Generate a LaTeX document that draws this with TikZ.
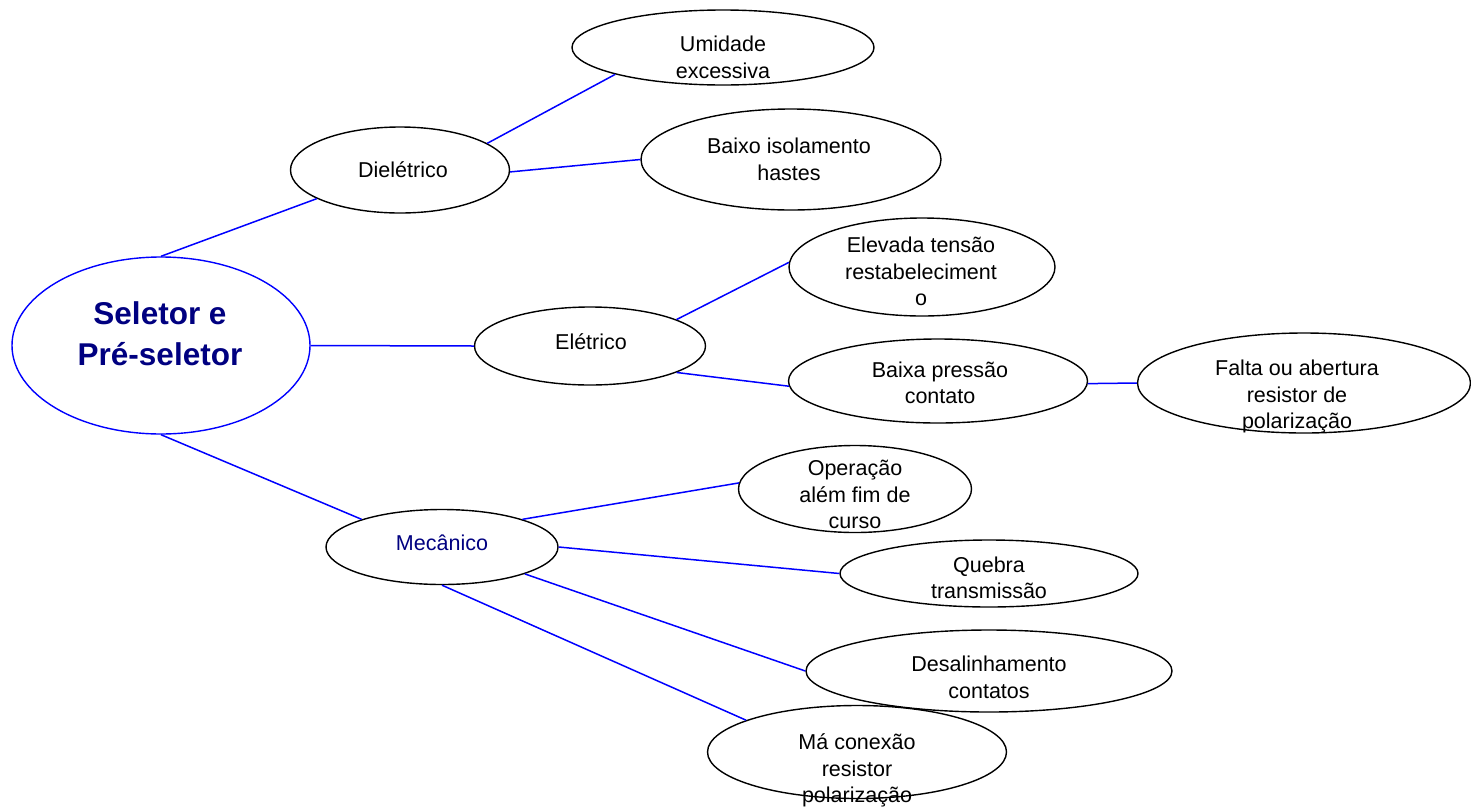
\documentclass[tikz,border=0pt]{standalone}
\usepackage{fontspec}
\setmainfont{Liberation Sans}
\usetikzlibrary{shapes.geometric}
\definecolor{navy}{RGB}{0,0,128}
\definecolor{lblue}{RGB}{0,0,255}
\tikzset{
  ell/.style={ellipse, draw=black, line width=1.4pt, inner sep=0pt},
  mainell/.style={ellipse, draw=lblue, line width=1.4pt, inner sep=0pt},
  lbl/.style={align=center, font=\fontsize{21.5}{26.5}\selectfont, inner sep=0pt},
  mainlbl/.style={align=center, font=\fontsize{31.5}{41}\selectfont\bfseries, text=navy, inner sep=0pt},
  conn/.style={draw=lblue, line width=1.5pt},
}
\begin{document}
\begin{tikzpicture}[x=1pt,y=-1pt]
\useasboundingbox (0,0) rectangle (1471,809);
% ellipses
\node[mainell, minimum width=298pt, minimum height=177pt] (main) at (161,345.5) {};
\node[ell, minimum width=219pt, minimum height=86pt] (diel) at (400,170) {};
\node[ell, minimum width=302pt, minimum height=75pt] (umid) at (723,47.5) {};
\node[ell, minimum width=300pt, minimum height=101pt] (biso) at (791,159.5) {};
\node[ell, minimum width=231pt, minimum height=78pt] (elet) at (590,346) {};
\node[ell, minimum width=266pt, minimum height=98pt] (elev) at (922,267) {};
\node[ell, minimum width=299pt, minimum height=84pt] (bpre) at (938,381) {};
\node[ell, minimum width=333pt, minimum height=100pt] (falta) at (1304,383) {};
\node[ell, minimum width=232pt, minimum height=75pt] (mec) at (442,547) {};
\node[ell, minimum width=233pt, minimum height=87pt] (oper) at (855,489) {};
\node[ell, minimum width=298pt, minimum height=67pt] (queb) at (989,573.5) {};
\node[ell, minimum width=366pt, minimum height=82pt] (desal) at (989,671) {};
\node[ell, minimum width=299pt, minimum height=93pt] (mac) at (857,752) {};
% texts
\node[mainlbl] (tmain) at (160,333.5) {Seletor e\\Pré-seletor};
\node[lbl] (tdiel) at (403,170) {Dielétrico};
\node[lbl] (tumid) at (723,57.5) {Umidade\\excessiva};
\node[lbl] (tbiso) at (789,159.5) {Baixo isolamento\\hastes};
\node[lbl] (telet) at (591,342) {Elétrico};
\node[lbl] (telev) at (921,271.5) {Elevada tensão\\restabeleciment\\o};
\node[lbl] (tbpre) at (940,383) {Baixa pressão\\contato};
\node[lbl] (tfalta) at (1297,396.5) {Falta ou abertura\\resistor de\\polarização};
\node[lbl, text=navy] (tmec) at (442,543) {Mecânico};
\node[lbl] (toper) at (855,494.5) {Operação\\além fim de\\curso};
\node[lbl] (tqueb) at (989,578) {Quebra\\transmissão};
\node[lbl] (tdesal) at (989,677.5) {Desalinhamento\\contatos};
\node[lbl] (tmac) at (857,770.5) {Má conexão\\resistor\\polarização};
% connectors
\draw[conn] (main.90) -- (diel.199);
\draw[conn] (main.0) -- (elet.180);
\draw[conn] (main.270) -- (mec.161);
\draw[conn] (diel.17) -- (umid.194);
\draw[conn] (diel.-1) -- (biso.180);
\draw[conn] (elet.17) -- (elev.178);
\draw[conn] (elet.343) -- (bpre.182);
\draw[conn] (bpre.-1) -- (falta.180);
\draw[conn] (mec.19.5) -- (oper.177);
\draw[conn] (mec.0) -- (queb.180);
\draw[conn] (mec.342) -- (desal.180);
\draw[conn] (mec.270) -- (mac.164);
\end{tikzpicture}
\end{document}
